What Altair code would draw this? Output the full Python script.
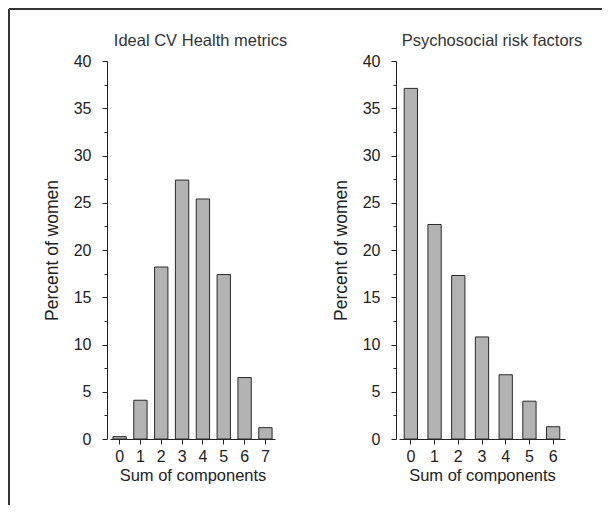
import altair as alt
import pandas as pd

# ---- data ----
cv_components = [0, 1, 2, 3, 4, 5, 6, 7]
cv_percent = [0.25, 4.1, 18.2, 27.4, 25.4, 17.4, 6.5, 1.2]
psy_components = [0, 1, 2, 3, 4, 5, 6]
psy_percent = [37.1, 22.7, 17.3, 10.8, 6.8, 4.0, 1.3]

panel_titles = ["Ideal CV Health metrics", "Psychosocial risk factors"]
x_title = "Sum of components"
y_title = "Percent of women"
y_tick_values = [0, 2.5, 5, 7.5, 10, 12.5, 15, 17.5, 20, 22.5, 25, 27.5, 30,
                 32.5, 35, 37.5, 40]

FONT = "Liberation Sans"
TXT = "#222222"
FILL = "#b3b3b3"
STROKE = "#2a2a2a"
FRAME = "#333333"


def panel(comps, vals, text, dx, width, p_inner, p_outer):
    df = pd.DataFrame({"comp": comps, "pct": vals})
    return (
        alt.Chart(
            df,
            title=alt.Title(
                text, fontSize=16.5, font=FONT, fontWeight="normal", color="#333333",
                frame="group", anchor="middle", offset=4, dx=dx,
            ),
        )
        .mark_bar(fill=FILL, stroke=STROKE, strokeWidth=1)
        .encode(
            x=alt.X(
                "comp:O",
                title=x_title,
                scale=alt.Scale(paddingInner=p_inner, paddingOuter=p_outer),
                axis=alt.Axis(
                    labelAngle=0, tickSize=5, labelPadding=4, titlePadding=3,
                    labelFontSize=16, titleFontSize=16.5,
                ),
            ),
            y=alt.Y(
                "pct:Q",
                title=y_title,
                scale=alt.Scale(domain=[0, 40], nice=False, zero=True),
                axis=alt.Axis(
                    values=y_tick_values,
                    offset=3,
                    tickSize={"condition": {"test": "datum.value % 5 === 0", "value": 5}, "value": 3},
                    labelExpr="datum.value % 5 === 0 ? datum.label : ''",
                    labelOverlap=False,
                    labelFlush=False,
                    labelPadding=11,
                    titlePadding=12,
                    labelFontSize=16,
                    titleFontSize=17.5,
                ),
            ),
        )
        .properties(width=width, height=378)
    )


# figure frame (top and left border of the original figure box)
one = pd.DataFrame({"k": [0]})
frame_left = alt.Chart(one).mark_rule(color=FRAME, strokeWidth=2).encode(
    x=alt.value(-101), y=alt.value(0), y2=alt.value(496)
)
frame_top = alt.Chart(one).mark_rule(color=FRAME, strokeWidth=2).encode(
    x=alt.value(-101), x2=alt.value(492), y=alt.value(0)
)
frame = alt.layer(frame_left, frame_top).properties(width=1, height=1)

left = panel(cv_components, cv_percent, panel_titles[0], 8, 165, 0.36, 0.14)
right = panel(psy_components, psy_percent, panel_titles[1], 10, 166, 0.44, 0.22)

panels = alt.hconcat(left, right, spacing=124, bounds="flush")

chart = (
    alt.vconcat(frame, panels, spacing=51, bounds="flush")
    .properties(padding={"left": 0, "top": 0, "right": 0, "bottom": 0})
    .configure_view(stroke=None)
    .configure_axis(
        domainColor=TXT, tickColor=TXT, labelColor=TXT, titleColor=TXT,
        labelFont=FONT, titleFont=FONT, titleFontWeight="normal",
        grid=False, domainWidth=1, tickWidth=1,
    )
)

chart.save("out.html", embed_options={"renderer": "svg", "actions": False})
